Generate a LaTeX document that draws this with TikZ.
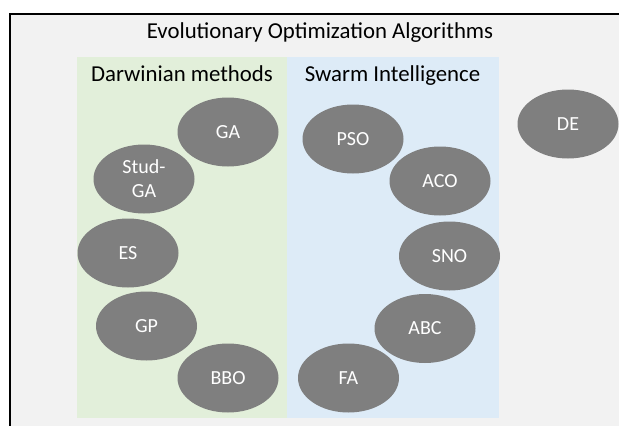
\documentclass[tikz,border=0pt]{standalone}
\usepackage{fontspec}
\setmainfont{Carlito}
\usetikzlibrary{shapes.geometric}
\definecolor{canvas}{HTML}{F2F2F2}
\definecolor{darwingreen}{HTML}{E2EFDA}
\definecolor{swarmblue}{HTML}{DDEBF7}
\definecolor{algogray}{HTML}{7F7F7F}
\tikzset{
  algo/.style={ellipse, fill=algogray, draw=none, minimum width=101pt,
    minimum height=69pt, inner sep=0pt, text=white, align=center,
    font=\fontsize{20}{24}\selectfont},
  heading/.style={anchor=base, inner sep=0pt, text=black,
    font=\fontsize{22.8}{26}\selectfont},
}
\begin{document}
\begin{tikzpicture}[x=1pt, y=-1pt]
  \useasboundingbox (0,0) rectangle (619,426);
  \fill[white] (0,0) rectangle (619,426);
  % outer frame
  \fill[canvas] (10,13.5) rectangle (619,426);
  \draw[line width=2pt] (10,426) -- (10,13.5) -- (619,13.5);
  \node[heading] (title) at (320,38) {Evolutionary Optimization Algorithms};
  % group panels
  \fill[darwingreen] (77,57) rectangle (287,418);
  \fill[swarmblue] (287,57) rectangle (499,418);
  \node[heading] (darwin) at (182,81) {Darwinian methods};
  \node[heading] (swarm) at (392.5,81) {Swarm Intelligence};
  % Darwinian methods
  \node[algo] (ga) at (228,132) {GA};
  \node[algo] (studga) at (144,179) {Stud-\\GA};
  \node[algo] (es) at (128,253) {ES};
  \node[algo] (gp) at (146.5,326) {GP};
  \node[algo] (bbo) at (228,378) {BBO};
  % swarm intelligence
  \node[algo] (pso) at (353,139) {PSO};
  \node[algo] (aco) at (440,181) {ACO};
  \node[algo] (sno) at (449.5,256) {SNO};
  \node[algo] (abc) at (425,328.5) {ABC};
  \node[algo] (fa) at (348.5,378) {FA};
  % standalone method
  \node[algo] (de) at (568,124) {DE};
\end{tikzpicture}
\end{document}
